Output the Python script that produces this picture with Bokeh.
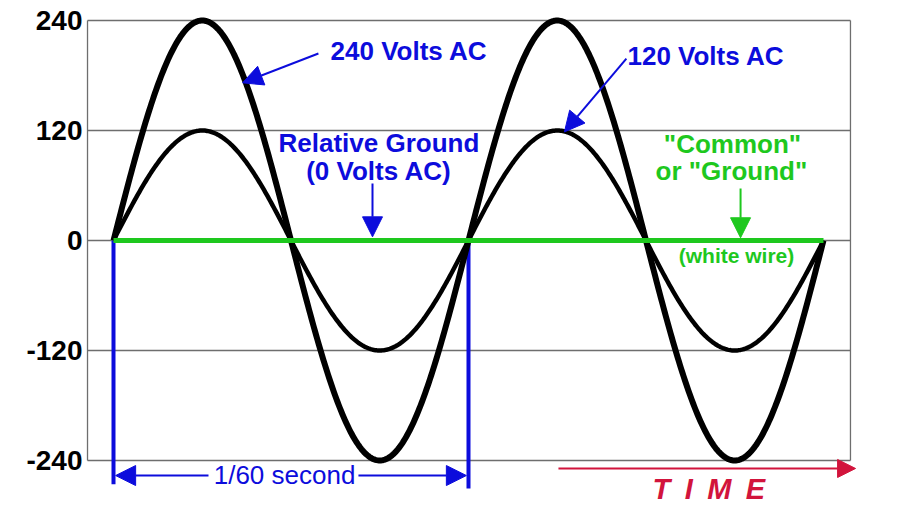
import numpy as np
from bokeh.plotting import figure
from bokeh.models import Range1d, FixedTicker, Arrow, NormalHead
from bokeh.core.properties import value
from bokeh.embed import file_html
from bokeh.resources import INLINE

# ---- data ----
frequency_hz = 60
period_ms = 1000.0 / frequency_hz          # 1/60 second
cycles = 2
amplitudes = {"240 Volts AC": 240, "120 Volts AC": 120}
y_ticks = [240, 120, 0, -120, -240]
y_tick_labels = ["240", "120", "0", "-120", "-240"]
grid_levels = [240, 120, 0, -120, -240]

t = np.linspace(0, cycles * period_ms, 600)

BLUE = "#0c0cdc"
GREEN = "#1ec81e"
RED = "#d2143c"
FONT = value("Liberation Sans")

p = figure(width=900, height=513, output_backend="svg", toolbar_location=None,
           x_range=Range1d(-1.3146, 36.949), y_range=Range1d(-297.82, 261.82),
           min_border_left=85, min_border_right=0, min_border_top=0, min_border_bottom=0)
p.outline_line_color = None
p.background_fill_color = "white"
p.border_fill_color = "white"
p.xaxis.visible = False
p.xgrid.visible = False
p.ygrid.visible = False

ax = p.yaxis[0]
ax.ticker = FixedTicker(ticks=y_ticks)
ax.major_label_overrides = {k: v for k, v in zip(y_ticks, y_tick_labels)}
ax.axis_line_color = None
ax.major_tick_line_color = None
ax.minor_tick_line_color = None
ax.major_tick_in = 0
ax.major_tick_out = 0
ax.major_label_standoff = 3
ax.major_label_text_font = "Liberation Sans"
ax.major_label_text_font_style = "bold"
ax.major_label_text_font_size = "28px"
ax.major_label_text_color = "black"

# frame box and grid
box_left, box_right = -1.22, 34.60
p.segment(x0=[box_left] * len(grid_levels), x1=[box_right] * len(grid_levels),
          y0=grid_levels, y1=grid_levels, line_color="#6e6e6e", line_width=1.3)
p.segment(x0=[box_left, box_right], x1=[box_left, box_right],
          y0=[-240, -240], y1=[240, 240], line_color="#6e6e6e", line_width=1.3)

# blue period markers
p.segment(x0=[0, period_ms], x1=[0, period_ms], y0=[0, 0], y1=[-266, -270.5],
          line_color=BLUE, line_width=4)

# waves
p.line(t, amplitudes["240 Volts AC"] * np.sin(2 * np.pi * t / period_ms),
       line_color="black", line_width=6, line_join="round")
p.line(t, amplitudes["120 Volts AC"] * np.sin(2 * np.pi * t / period_ms),
       line_color="black", line_width=4.5, line_join="round")

# ground line
p.line([0, cycles * period_ms], [0, 0], line_color=GREEN, line_width=5)

def arrow(x0, y0, x1, y1, color, size=20, width=2):
    p.add_layout(Arrow(end=NormalHead(size=size, fill_color=color, line_color=color),
                       x_start=x0, y_start=y0, x_end=x1, y_end=y1,
                       line_color=color, line_width=width))

def label(x, y, txt, color, size, style="bold", align="left"):
    p.text(x=[x], y=[y], text=[txt], text_color=color, text_font=FONT,
           text_font_size=size, text_font_style=style, text_align=align,
           text_baseline="middle")

# annotations
label(10.19, 206.2, "240 Volts AC", BLUE, "26px")
arrow(9.62, 204, 6.06, 172, BLUE)
label(24.13, 201.8, "120 Volts AC", BLUE, "26px")
arrow(24.08, 198.5, 21.17, 118.5, BLUE)
label(12.46, 106.9, "Relative Ground", BLUE, "26px", align="center")
label(12.46, 75.3, "(0 Volts AC)", BLUE, "26px", align="center")
arrow(12.16, 62.2, 12.16, 4, BLUE)

label(29.06, 105.8, "\"Common\"", GREEN, "26px", align="center")
label(29.01, 75.3, "or \"Ground\"", GREEN, "26px", align="center")
arrow(29.44, 56.7, 29.44, 3, GREEN)
label(29.25, -16.4, "(white wire)", GREEN, "21px", align="center")

# 1/60 second dimension
label(8.03, -255.3, "1/60 second", BLUE, "26px", style="normal", align="center")
arrow(4.46, -256.4, 0.1, -256.4, BLUE)
arrow(11.50, -256.4, period_ms - 0.1, -256.4, BLUE)

# time axis arrow
arrow(20.89, -248.7, 34.84, -248.7, RED, size=18)
label(27.95, -271.6, "T\u2002I\u2002M\u2002E", RED, "29px", style="bold italic", align="center")

open("out.html", "w").write(file_html(p, INLINE))
